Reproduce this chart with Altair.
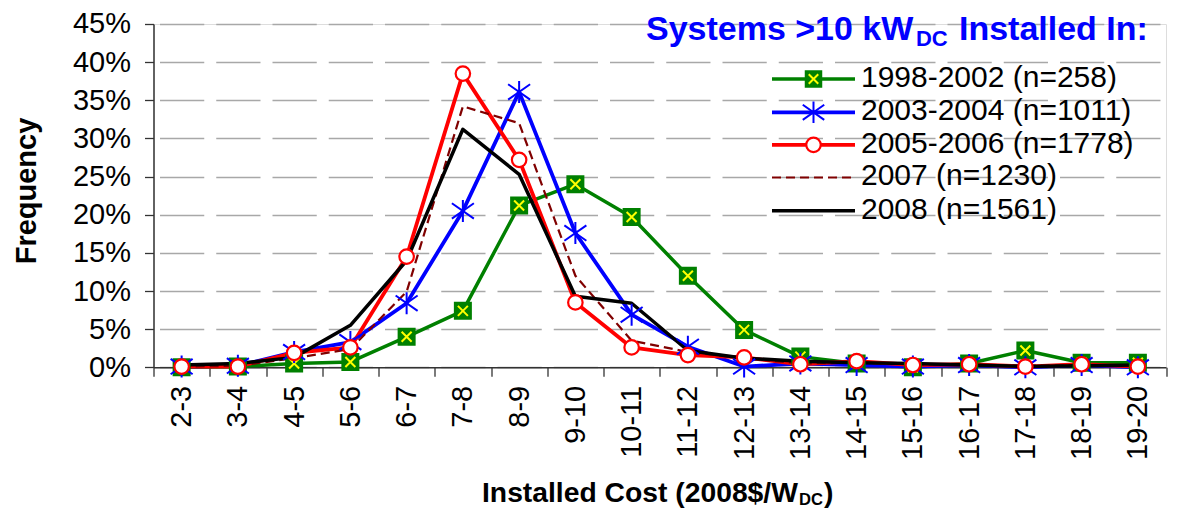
import altair as alt
import pandas as pd

# ---------------- data (percent) ----------------
cats = ["2-3", "3-4", "4-5", "5-6", "6-7", "7-8", "8-9", "9-10", "10-11", "11-12",
        "12-13", "13-14", "14-15", "15-16", "16-17", "17-18", "18-19", "19-20"]
y9802 = [0.0, 0.1, 0.5, 0.7, 4.0, 7.4, 21.2, 24.0, 19.7, 12.0, 4.9, 1.4, 0.5, 0.0, 0.5, 2.2, 0.6, 0.6]
y0304 = [0.1, 0.2, 2.0, 3.3, 8.4, 20.5, 36.1, 17.6, 6.9, 2.7, 0.1, 0.5, 0.3, 0.1, 0.3, 0.0, 0.3, 0.0]
y0506 = [0.1, 0.1, 1.9, 2.6, 14.5, 38.5, 27.2, 8.5, 2.6, 1.6, 1.3, 0.4, 0.8, 0.3, 0.4, 0.1, 0.4, 0.1]
y2007 = [0.1, 0.2, 1.2, 2.4, 9.9, 34.2, 32.0, 12.0, 3.5, 2.0, 1.2, 0.5, 0.6, 0.4, 0.3, 0.2, 0.3, 0.3]
y2008 = [0.3, 0.5, 1.3, 5.5, 14.0, 31.2, 25.3, 9.3, 8.4, 2.2, 1.2, 0.8, 0.6, 0.5, 0.3, 0.1, 0.2, 0.3]
names = ["1998-2002 (n=258)", "2003-2004 (n=1011)", "2005-2006 (n=1778)",
         "2007 (n=1230)", "2008 (n=1561)"]
series = [y9802, y0304, y0506, y2007, y2008]

title_main = "Systems >10 kW"
title_sub = "DC"
title_end = "Installed In:"
xtitle_main = "Installed Cost (2008$/W"
xtitle_sub = "DC"
xtitle_end = ")"
ytitle = "Frequency"

FONT = "Liberation Sans"
GREEN, BLUE, RED, DRED, BLACK = "#008000", "#0000ff", "#ff0000", "#800000", "#000000"
colors = [GREEN, BLUE, RED, DRED, BLACK]
widths = [3.5, 3.8, 3.8, 2.2, 3.5]
dashes = [None, None, None, [9, 5], None]

X_PATH = "M-1,-1L1,1M-1,1L1,-1"
STAR_PATH = "M0,-1L0,1M-1,-0.7L1,0.7M-1,0.7L1,-0.7"

W, H = 1012.5, 343.3

frames = []
for nm, vals in zip(names, series):
    frames.append(pd.DataFrame({"cat": cats, "value": [v / 100 for v in vals], "series": nm}))
df = pd.concat(frames, ignore_index=True)

xenc = alt.X("cat:N", sort=cats, bandPosition=0.5,
             scale=alt.Scale(type="band", domain=cats, paddingInner=0, paddingOuter=0),
             axis=alt.Axis(title=None, labelAngle=-90, labelFontSize=29, labelColor="black",
                           labelFont=FONT, tickBand="extent", tickSize=9, tickColor="#333",
                           tickWidth=1.3, domainColor="#333", domainWidth=1.5,
                           labelPadding=9, grid=False))
yenc = alt.Y("value:Q", scale=alt.Scale(domain=[0, 0.45]),
             axis=alt.Axis(title=None, format=".0%",
                           values=[i * 0.05 for i in range(10)],
                           labelFontSize=29, labelColor="black", labelFont=FONT,
                           tickSize=9, tickColor="#333", tickWidth=1.3,
                           domainColor="#333", domainWidth=1.5, labelPadding=14,
                           grid=True, gridColor="#a8a8a8", gridWidth=1.6,
                           gridDash=[44.25, 12], gridDashOffset=50.25))

base = alt.Chart(df)
layers = []
for i, nm in enumerate(names):
    kw = dict(color=colors[i], strokeWidth=widths[i], strokeJoin="round")
    if dashes[i]:
        kw["strokeDash"] = dashes[i]
    layers.append(base.transform_filter(alt.datum.series == nm)
                  .mark_line(**kw).encode(x=xenc, y=yenc))

# markers
g = base.transform_filter(alt.datum.series == names[0])
layers.append(g.mark_point(shape="square", filled=True, fill=GREEN, stroke=GREEN,
                           size=256, opacity=1).encode(x=xenc, y=yenc))
layers.append(g.mark_point(shape=X_PATH, filled=False, stroke="#ffff00", strokeWidth=2,
                           size=100, opacity=1).encode(x=xenc, y=yenc))
b = base.transform_filter(alt.datum.series == names[1])
layers.append(b.mark_point(shape=STAR_PATH, filled=False, stroke=BLUE, strokeWidth=2,
                           size=484, opacity=1).encode(x=xenc, y=yenc))
r = base.transform_filter(alt.datum.series == names[2])
layers.append(r.mark_point(shape="circle", filled=True, fill="white", stroke=RED,
                           strokeWidth=2.2, size=210, opacity=1).encode(x=xenc, y=yenc))

one = alt.Data(values=[{"a": 1}])


def txt(text, x, y, size, bold=False, color="black", align="left", baseline="alphabetic", angle=0):
    kw = dict(font=FONT, fontSize=size, fontWeight="bold" if bold else "normal",
              color=color, align=align, baseline=baseline)
    if angle:
        kw["angle"] = angle
    return alt.Chart(one).mark_text(**kw).encode(
        x=alt.value(x), y=alt.value(y), text=alt.value(text))


OX, OY = 153.5, 24.0  # plot origin in page pixels

# title
layers.append(txt(title_main, 646 - OX, 40 - OY, 34, bold=True, color=BLUE))
layers.append(txt(title_sub, 916 - OX, 46 - OY, 22, bold=True, color=BLUE))
layers.append(txt(title_end, 959 - OX, 40 - OY, 34, bold=True, color=BLUE))

# axis titles
layers.append(txt(ytitle, 27 - OX, 191 - OY, 29, bold=True, align="center",
                  baseline="middle", angle=270))
layers.append(txt(xtitle_main, 482 - OX, 502 - OY, 28.3, bold=True))
layers.append(txt(xtitle_sub, 799 - OX, 505.5 - OY, 16.6, bold=True))
layers.append(txt(xtitle_end, 824 - OX, 502 - OY, 28.3, bold=True))

# legend
row_y = [79, 112.3, 144.8, 177.5, 210.7]
lx1, lx2, ltx = 772 - OX, 855 - OX, 861 - OX
for i, nm in enumerate(names):
    yy = row_y[i] - OY
    kw = dict(color=colors[i], strokeWidth=widths[i])
    if dashes[i]:
        kw["strokeDash"] = dashes[i]
    layers.append(alt.Chart(one).mark_rule(**kw).encode(
        x=alt.value(lx1), x2=alt.value(lx2), y=alt.value(yy)))
    mx = (lx1 + lx2) / 2
    if i == 0:
        layers.append(alt.Chart(one).mark_point(shape="square", filled=True, fill=GREEN,
                                                stroke=GREEN, size=240, opacity=1)
                      .encode(x=alt.value(mx), y=alt.value(yy)))
        layers.append(alt.Chart(one).mark_point(shape=X_PATH, filled=False, stroke="#ffff00",
                                                strokeWidth=2, size=90, opacity=1)
                      .encode(x=alt.value(mx), y=alt.value(yy)))
    elif i == 1:
        layers.append(alt.Chart(one).mark_point(shape=STAR_PATH, filled=False, stroke=BLUE,
                                                strokeWidth=2, size=460, opacity=1)
                      .encode(x=alt.value(mx), y=alt.value(yy)))
    elif i == 2:
        layers.append(alt.Chart(one).mark_point(shape="circle", filled=True, fill="white",
                                                stroke=RED, strokeWidth=2.2, size=210, opacity=1)
                      .encode(x=alt.value(mx), y=alt.value(yy)))
    layers.append(txt(nm, ltx, row_y[i] + 8 - OY, 30))

chart = alt.layer(*layers).properties(
    width=W, height=H,
    autosize=alt.AutoSizeParams(type="none"),
    padding={"left": OX - 8, "top": OY - 8, "right": 12, "bottom": 142},
).configure_view(stroke=None).configure(background="white")

chart.save("out.html", embed_options={"renderer": "svg", "actions": False})
